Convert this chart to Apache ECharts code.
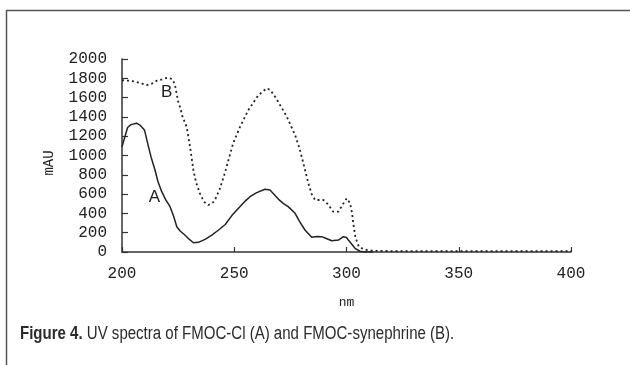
<!DOCTYPE html>
<html>
<head>
<meta charset="utf-8">
<script src="https://cdn.jsdelivr.net/npm/echarts@6/dist/echarts.min.js"></script>
<style>
html,body{margin:0;padding:0;background:#fff;}
#chart{width:630px;height:365px;}
</style>
</head>
<body>
<div id="chart"></div>
<script>
// Wavelength (nm) and absorbance (mAU)
var wlA  = [200, 202.5, 204, 206.5, 208, 210, 211.7, 213, 214.7, 216, 217.7, 219.5, 221.4, 223, 224.4, 226, 228, 230, 231.8, 234, 237, 240, 243, 246, 249, 252, 255, 257, 260, 263.7, 265.9, 268, 270, 271.8, 274, 277.1, 279, 281.5, 284.5, 287, 289, 291, 293.4, 296.4, 298.6, 300, 300.8, 302, 303.8, 306, 308, 312];
var valA = [1090, 1290, 1320, 1335, 1315, 1265, 1100, 980, 850, 730, 625, 540, 470, 370, 262, 215, 176, 130, 96, 100, 131, 175, 228, 285, 380, 455, 530, 573, 615, 650, 642, 590, 540, 504, 470, 401, 320, 228, 152, 160, 159, 140, 117, 124, 159, 150, 124, 90, 38, 8, 0, 0];

var wlB  = [200, 203, 206, 209, 211, 213, 215.5, 218, 220, 221.4, 222.5, 223.6, 225, 225.8, 227, 228.8, 230.3, 231.8, 233, 234.7, 236.5, 238.4, 240, 241.4, 243.5, 245.9, 249.5, 252.6, 256.3, 260.8, 264.5, 266, 268.2, 271, 273.4, 277.1, 279, 280.8, 283, 284.5, 286, 289.7, 291.5, 294.1, 296.4, 298, 300.1, 301.6, 302.5, 303, 304, 305.5, 308, 312, 320, 340, 360, 380, 400];
var valB = [1780, 1775, 1765, 1745, 1730, 1740, 1775, 1790, 1805, 1800, 1790, 1730, 1560, 1506, 1400, 1298, 1091, 850, 720, 608, 520, 487, 500, 539, 650, 825, 1126, 1298, 1471, 1627, 1696, 1680, 1609, 1500, 1402, 1212, 1080, 919, 712, 600, 539, 539, 500, 418, 418, 480, 556, 504, 400, 297, 150, 55, 25, 12, 10, 10, 10, 10, 10];

var xTicks = [200, 250, 300, 350, 400];
var yTicks = [0, 200, 400, 600, 800, 1000, 1200, 1400, 1600, 1800, 2000];
var seriesNames = ['A', 'B'];
var labelPos = {A: [214.4, 563], B: [219.9, 1655]};
var caption = {bold: 'Figure 4.', rest: ' UV spectra of FMOC-Cl (A) and FMOC-synephrine (B).'};

function pairs(xs, ys) { return xs.map(function (x, i) { return [x, ys[i]]; }); }

var mono = '"Liberation Mono", "DejaVu Sans Mono", monospace';
var sans = '"Liberation Sans", "Noto Sans", sans-serif';
var ink = '#222';

function seriesLabel(name) {
  return {
    symbol: 'circle', symbolSize: 1, itemStyle: {color: 'transparent'},
    data: [{coord: labelPos[name], label: {show: true, position: 'inside', formatter: name, fontFamily: sans, fontSize: 17, color: ink}}]
  };
}

var chart = echarts.init(document.getElementById('chart'), null, {renderer: 'canvas'});
chart.setOption({
  animation: false,
  backgroundColor: '#fff',
  grid: {left: 122, right: 59, top: 59, bottom: 113, containLabel: false},
  xAxis: {
    type: 'value', min: xTicks[0], max: xTicks[xTicks.length - 1], interval: 50,
    name: 'nm', nameLocation: 'middle', nameGap: 44,
    nameTextStyle: {fontFamily: mono, fontSize: 13, color: ink},
    axisLine: {lineStyle: {color: '#333', width: 1.5}},
    axisTick: {inside: true, length: 5, lineStyle: {color: '#333', width: 1.2}},
    axisLabel: {fontFamily: mono, fontSize: 16, color: ink, margin: 14},
    splitLine: {show: false}
  },
  yAxis: {
    type: 'value', min: yTicks[0], max: yTicks[yTicks.length - 1], interval: 200,
    axisLine: {show: true, lineStyle: {color: '#333', width: 1.5}},
    axisTick: {show: true, inside: true, length: 6, lineStyle: {color: '#333', width: 1.2}},
    axisLabel: {fontFamily: mono, fontSize: 16, color: ink, margin: 15, formatter: function (v) { return String(v); }},
    splitLine: {show: false}
  },
  graphic: [
    {type: 'rect', shape: {x: 6.5, y: 10.5, width: 700, height: 400}, style: {fill: null, stroke: '#555', lineWidth: 1.5}, silent: true},
    {type: 'text', x: 49, y: 163, rotation: Math.PI / 2, style: {text: 'mAU', fontFamily: mono, fontSize: 14, fill: ink, align: 'center', verticalAlign: 'middle'}},
    {type: 'text', x: 20, y: 334, scaleX: 0.835, style: {
      text: '{b|' + caption.bold + '}{r|' + caption.rest + '}',
      verticalAlign: 'middle',
      rich: {
        b: {fontFamily: sans, fontSize: 18, fontWeight: 'bold', fill: '#2b2b2b'},
        r: {fontFamily: sans, fontSize: 18, fill: '#2b2b2b'}
      }
    }}
  ],
  series: [
    {
      name: seriesNames[0], type: 'line', data: pairs(wlA, valA), showSymbol: false,
      lineStyle: {color: ink, width: 1.5, type: 'solid'},
      markPoint: seriesLabel('A')
    },
    {
      name: seriesNames[1], type: 'line', data: pairs(wlB, valB), showSymbol: false,
      lineStyle: {color: ink, width: 1.8, type: [2, 3]},
      markPoint: seriesLabel('B')
    }
  ]
});
</script>
</body>
</html>
